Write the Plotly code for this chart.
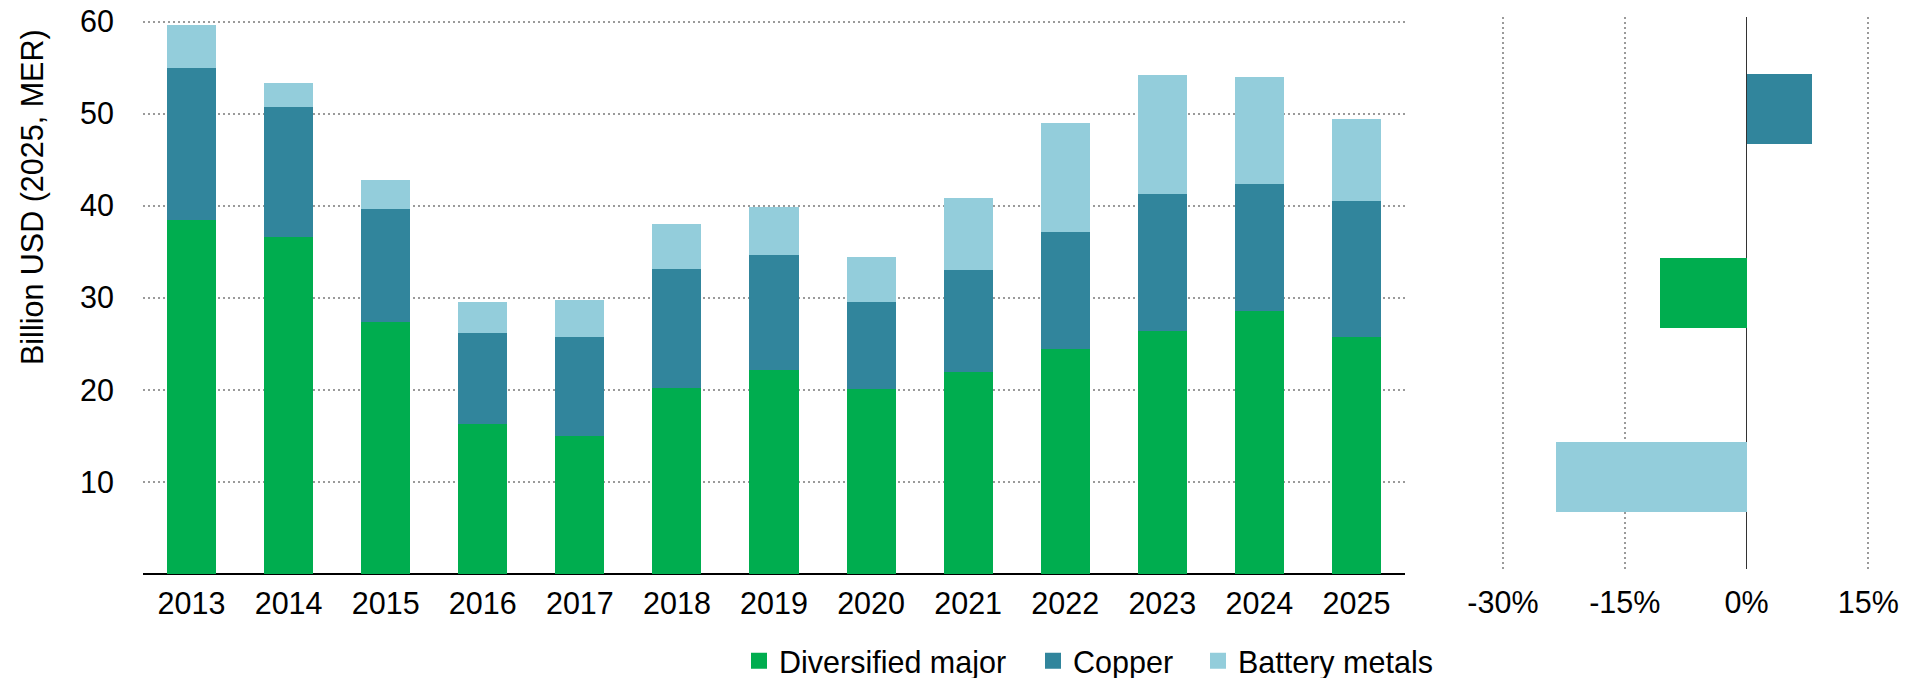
import plotly.graph_objects as go

years = ["2013", "2014", "2015", "2016", "2017", "2018", "2019", "2020", "2021", "2022", "2023", "2024", "2025"]
diversified = [38.4, 36.6, 27.4, 16.3, 15.0, 20.2, 22.2, 20.1, 21.9, 24.4, 26.4, 28.6, 25.7]
copper = [16.6, 14.1, 12.3, 9.9, 10.7, 12.9, 12.5, 9.4, 11.1, 12.8, 14.9, 13.8, 14.8]
battery = [4.6, 2.6, 3.1, 3.3, 4.1, 4.9, 5.2, 4.9, 7.8, 11.8, 12.9, 11.6, 8.9]

change_cats = ["Battery metals", "Diversified major", "Copper"]
change_vals = [-23.5, -10.6, 8.1]

series_names = ["Diversified major", "Copper", "Battery metals"]
colors = {"Diversified major": "#00AD4F", "Copper": "#31859C", "Battery metals": "#93CDDB"}

FONT = "Liberation Sans, Arial, sans-serif"
FS = 30.5
OFF = 8  # page body margin
W, H = 1915 - OFF, 678 - OFF
# plot area in reference pixels
L0, R0, T0, B0 = 143, 1909, 17, 574
L, R, T, B = L0 - OFF, R0 - OFF, T0 - OFF, B0 - OFF
PW, PH = R - L, B - T

def px(xr):
    return (xr - L0) / PW

def py(yr):
    return (B0 - yr) / PH

legend_ids = ["legend", "legend2", "legend3"]
legend_x = [739, 1033, 1198]

fig = go.Figure()
for name, vals, lid in zip(series_names, [diversified, copper, battery], legend_ids):
    fig.add_trace(go.Bar(
        x=years, y=vals, name=name, marker=dict(color=colors[name], line=dict(width=0)),
        xaxis="x", yaxis="y", showlegend=False, legendgroup=name,
    ))
    # legend entry (square swatch)
    fig.add_trace(go.Scatter(
        x=[None], y=[None], mode="markers", name=name, legend=lid, legendgroup=name,
        marker=dict(symbol="square", size=16, color=colors[name]),
        xaxis="x", yaxis="y", showlegend=True, hoverinfo="skip",
    ))

fig.add_trace(go.Bar(
    y=change_cats, x=change_vals, orientation="h",
    marker=dict(color=[colors[c] for c in change_cats], line=dict(width=0)),
    width=0.376, showlegend=False, xaxis="x2", yaxis="y2",
))

grid = dict(gridcolor="#9a9a9a", gridwidth=2, griddash="2px,3px")

leg_common = dict(orientation="h", xanchor="left", y=py(661), yanchor="middle",
                  font=dict(size=FS), itemwidth=30, bgcolor="rgba(0,0,0,0)", borderwidth=0)

fig.update_layout(
    width=W, height=H,
    margin=dict(l=L, r=W - R, t=T, b=H - B, autoexpand=False),
    paper_bgcolor="white", plot_bgcolor="white",
    barmode="stack", bargap=0.495,
    font=dict(family=FONT, size=FS, color="black"),
    xaxis=dict(domain=[0, px(1405)], type="category", range=[-0.5, 12.5],
               showgrid=False, showline=False, ticks="", ticklabelstandoff=8,
               automargin=False, tickfont=dict(size=FS)),
    yaxis=dict(domain=[0, 1], range=[0, 60.5],
               tickvals=[10, 20, 30, 40, 50, 60], showgrid=True, **grid,
               zeroline=True, zerolinecolor="black", zerolinewidth=1.5,
               showline=False, ticks="", ticklabelstandoff=28, automargin=False,
               ticklabeloverflow="allow", tickfont=dict(size=FS)),
    xaxis2=dict(domain=[px(1442), 1], range=[-37.5, 20], anchor="y2",
                tickvals=[-30, -15, 0, 15], ticktext=["-30%", "-15%", "0%", "15%"],
                showgrid=True, **grid, zeroline=True, zerolinecolor="#333333", zerolinewidth=1.2,
                showline=False, ticks="", ticklabelstandoff=12, automargin=False,
                ticklabeloverflow="allow", tickfont=dict(size=FS)),
    yaxis2=dict(domain=[py(569), 1], anchor="x2", type="category",
                range=[-0.5, 2.5], showticklabels=False, showgrid=False, zeroline=False,
                showline=False, ticks="", automargin=False),
    legend=dict(x=px(legend_x[0]), **leg_common),
    legend2=dict(x=px(legend_x[1]), **leg_common),
    legend3=dict(x=px(legend_x[2]), **leg_common),
    annotations=[dict(text="Billion USD (2025, MER)", x=px(32), y=py(197),
                      xref="paper", yref="paper", textangle=-90, showarrow=False,
                      xanchor="center", yanchor="middle", font=dict(size=FS))],
)

fig.write_html("out.html")
